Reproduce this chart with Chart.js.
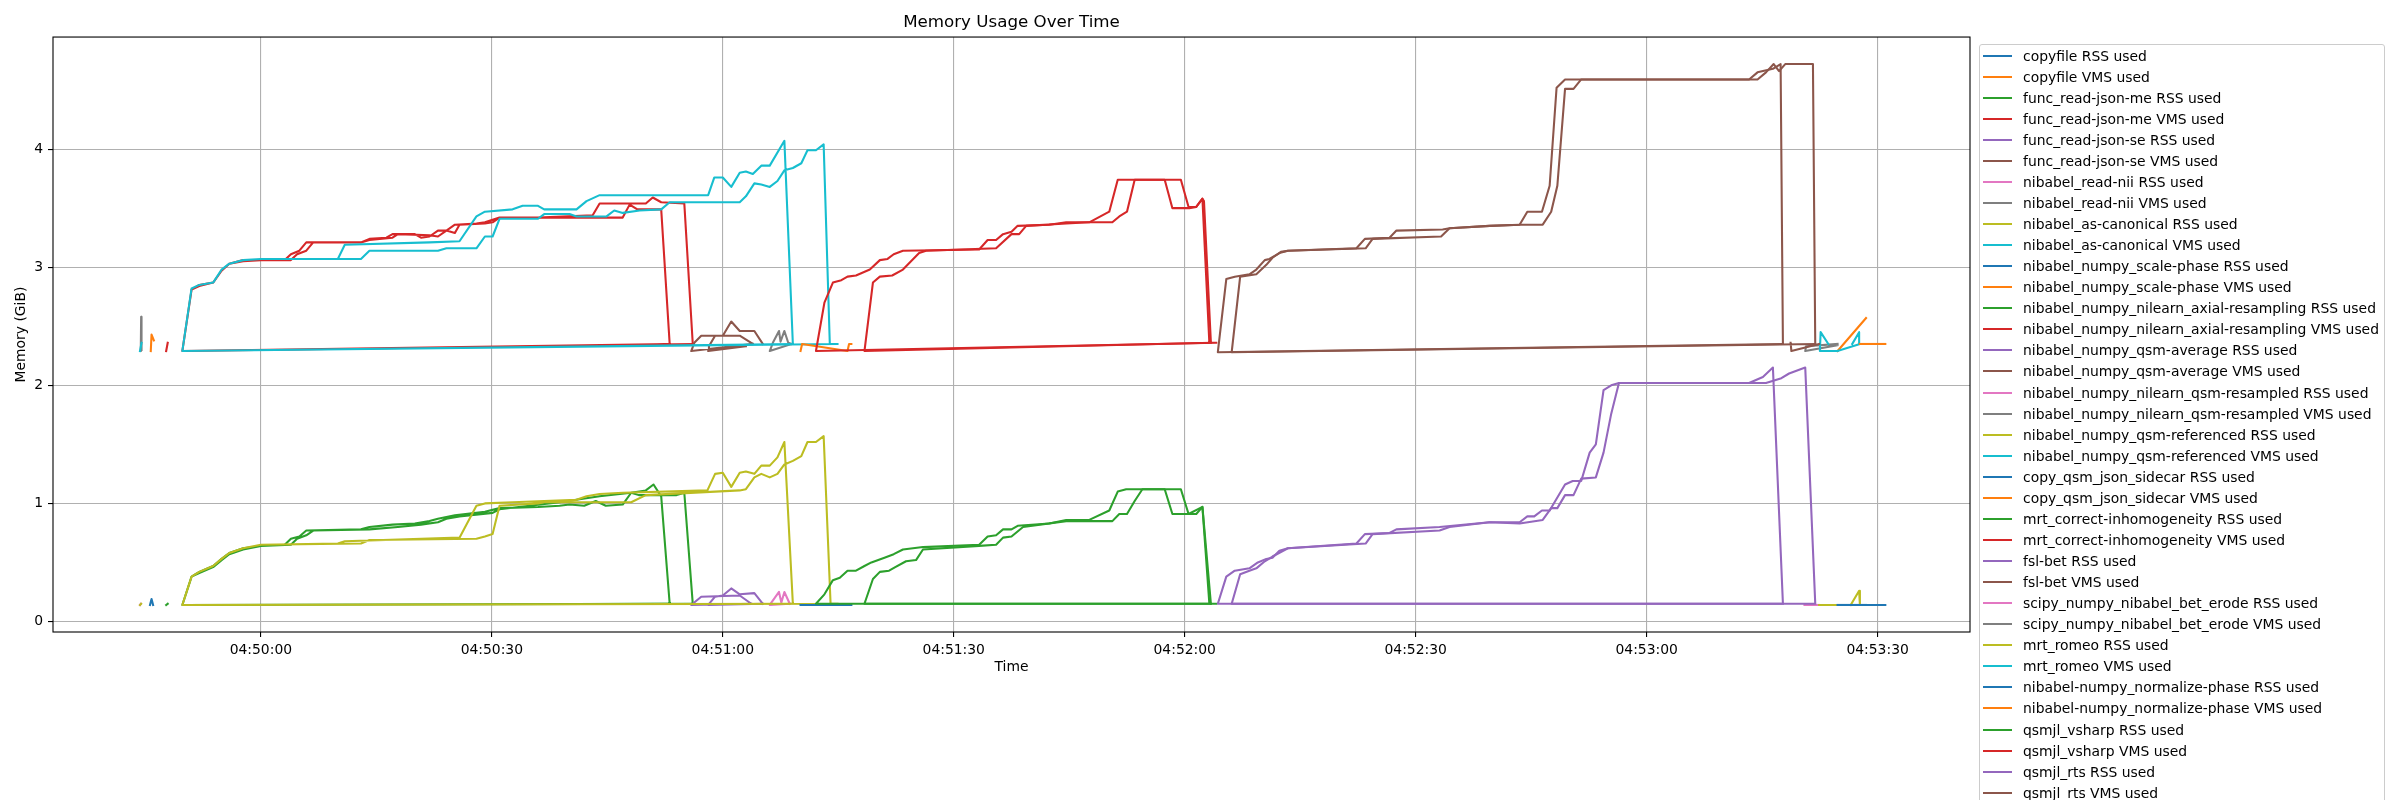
<!DOCTYPE html>
<html>
<head>
<meta charset="utf-8">
<title>Memory Usage Over Time</title>
<script src="https://cdn.jsdelivr.net/npm/chart.js@4.4.1/dist/chart.umd.min.js"></script>
<style>
  body { margin: 0; background: #fff; }
  #wrap { position: relative; width: 2400px; height: 800px; overflow: hidden; background: #fff; }
  #plot { position: absolute; left: 0; top: 0; width: 2400px; height: 800px; }
  #legend {
    position: absolute; left: 1979px; top: 44px; width: 406px;
    box-sizing: border-box; border: 1px solid #cccccc; border-radius: 3px;
    background: rgba(255, 255, 255, 0.8);
    font: 13.9px "DejaVu Sans", sans-serif; color: #000;
  }
  .row { height: 21.07px; display: flex; align-items: center; white-space: nowrap; }
  .swatch { width: 29px; height: 2px; margin-left: 3px; margin-right: 11px; flex: none; }
</style>
</head>
<body>
<div id="wrap">
  <div id="plot"><canvas id="memChart"></canvas></div>
  <div id="legend"></div>
</div>
<script>
// x = seconds after 04:49:00, y = GiB. [x, null] breaks a line.
const copyfileRss = [[45.6,0.14],[45.8,0.19],[46.0,0.14]];
const copyfileVms = [[45.7,2.29],[45.8,2.43],[46.1,2.38]];
const readJsonMeRss = [[47.7,0.14],[47.9,0.15]];
const readJsonMeVms = [[47.7,2.29],[47.9,2.36]];
const readJsonSeRss = [];
const readJsonSeVms = [];
const readNiiRss = [[44.3,0.14],[44.4,0.15]];
const readNiiVms = [[44.4,2.29],[44.45,2.58],[44.5,2.30]];
const asCanonicalRss = [[44.3,0.14],[44.45,0.15]];
const asCanonicalVms = [[44.3,2.29],[44.5,2.36]];
const scalePhaseRss = [[264.8,0.14],[268.5,0.14]];
const scalePhaseVms = [[264.8,2.29],[268.5,2.57]];

const axialRss = [
  [113.1,0.15],[49.8,0.14],[51.0,0.38],[52.0,0.42],[53.8,0.47],[54.9,0.53],[55.9,0.58],[57.7,0.62],
  [60.0,0.64],[63.1,0.65],[63.9,0.70],[65.0,0.72],[65.9,0.77],[73.0,0.78],[74.1,0.80],[77.1,0.82],
  [80.0,0.83],[81.9,0.85],[83.0,0.87],[85.2,0.90],[89.1,0.93],[91.0,0.96],[96.0,0.97],[98.8,0.98],
  [100.1,0.99],[102.0,0.98],[103.5,1.02],[104.8,0.98],[107.0,0.99],[108.1,1.09],[110.0,1.11],
  [111.0,1.16],[112.0,1.06],[113.1,0.15],[113.1,null],
  [116.1,0.15],[49.8,0.14],[51.0,0.38],[52.0,0.41],[53.8,0.46],[54.9,0.52],[55.9,0.57],[57.7,0.61],
  [60.0,0.64],[63.9,0.65],[64.7,0.70],[65.9,0.73],[66.8,0.77],[74.1,0.78],[77.8,0.80],[80.8,0.82],
  [83.0,0.84],[84.1,0.87],[85.8,0.89],[90.1,0.92],[91.0,0.95],[98.8,1.01],[104.0,1.06],[108.1,1.09],
  [109.1,1.07],[114.0,1.07],[115.0,1.09],[116.1,0.15]
];
const axialVms = [
  [116.1,2.35],[49.8,2.29],[51.0,2.81],[52.0,2.85],[53.8,2.87],[54.9,2.97],[55.9,3.03],[57.7,3.06],
  [60.0,3.06],[63.1,3.06],[63.9,3.11],[65.0,3.14],[65.9,3.21],[73.0,3.21],[74.1,3.24],[76.3,3.25],
  [77.1,3.28],[80.0,3.28],[80.8,3.25],[81.9,3.26],[83.0,3.31],[84.1,3.31],[85.2,3.36],[88.0,3.37],
  [89.1,3.38],[91.0,3.42],[96.0,3.42],[103.1,3.44],[104.0,3.54],[110.0,3.54],[110.9,3.59],
  [112.0,3.55],[115.0,3.54],[116.1,2.35],[116.1,null],
  [113.1,2.35],[49.8,2.29],[51.0,2.81],[52.0,2.84],[53.8,2.87],[54.9,2.97],[55.9,3.03],[57.7,3.05],
  [60.0,3.06],[63.9,3.06],[64.7,3.11],[65.9,3.14],[66.8,3.21],[73.0,3.21],[74.1,3.23],[77.1,3.25],
  [77.8,3.28],[81.9,3.27],[83.0,3.26],[84.1,3.31],[85.2,3.29],[85.8,3.36],[89.1,3.37],[90.1,3.38],
  [91.0,3.42],[107.0,3.42],[107.9,3.53],[108.9,3.49],[112.0,3.49],[113.1,2.35]
];
const qsmAverageRss = [
  [123.7,0.15],[115.9,0.14],[117.2,0.21],[122.2,0.22],[123.7,0.15],[123.7,null],
  [125.2,0.15],[118.1,0.14],[119.0,0.21],[120.0,0.22],[121.1,0.28],[122.2,0.23],[124.1,0.24],[125.2,0.15]
];
const qsmAverageVms = [
  [123.9,2.35],[115.9,2.29],[116.3,2.36],[117.2,2.42],[122.2,2.42],[123.9,2.35],[123.9,null],
  [123.0,2.33],[118.1,2.29],[118.2,2.33],[119.0,2.42],[120.0,2.42],[121.1,2.54],[122.2,2.46],
  [124.1,2.46],[125.2,2.35]
];
const qsmResampledRss = [[128.7,0.15],[126.1,0.14],[127.3,0.25],[127.6,0.16],[128.0,0.25],[128.7,0.15]];
const qsmResampledVms = [[128.9,2.35],[126.1,2.29],[126.5,2.36],[127.3,2.46],[127.5,2.37],[128.0,2.46],[128.5,2.36],[128.9,2.35]];
const qsmReferencedRss = [
  [129.1,0.15],[49.8,0.14],[51.0,0.38],[52.0,0.42],[53.8,0.47],[54.9,0.53],[55.9,0.58],[57.7,0.62],
  [60.0,0.65],[70.0,0.66],[70.9,0.68],[85.8,0.71],[88.0,0.98],[89.1,1.00],[92.7,1.01],[96.8,1.02],
  [101.0,1.03],[102.3,1.06],[104.0,1.08],[107.0,1.09],[118.0,1.11],[119.0,1.25],[120.0,1.26],
  [121.1,1.14],[122.2,1.26],[123.0,1.27],[124.1,1.25],[125.0,1.32],[126.1,1.32],[127.1,1.39],
  [128.0,1.52],[129.1,0.15],[129.1,null],
  [134.9,0.15],[49.8,0.14],[51.0,0.38],[52.0,0.42],[53.8,0.47],[54.9,0.53],[55.9,0.58],[57.7,0.62],
  [60.0,0.65],[73.0,0.66],[74.1,0.69],[88.0,0.70],[89.1,0.72],[90.1,0.74],[91.0,0.98],[96.0,1.00],
  [96.8,1.01],[108.1,1.01],[110.0,1.07],[122.2,1.11],[123.0,1.12],[124.1,1.22],[125.0,1.25],
  [126.1,1.22],[127.1,1.25],[128.0,1.33],[129.1,1.36],[130.2,1.40],[131.0,1.52],[132.1,1.52],
  [133.1,1.57],[134.0,0.15],[134.9,0.15]
];
const qsmReferencedVms = [
  [129.1,2.35],[49.8,2.29],[51.0,2.82],[52.0,2.85],[53.8,2.87],[54.9,2.98],[55.9,3.03],[57.7,3.06],
  [60.0,3.07],[70.0,3.07],[70.9,3.19],[81.9,3.21],[85.8,3.22],[88.0,3.43],[89.1,3.47],[92.7,3.49],
  [94.0,3.52],[96.0,3.52],[96.8,3.49],[101.0,3.49],[102.3,3.56],[104.0,3.61],[118.1,3.61],
  [118.9,3.76],[120.0,3.76],[121.1,3.68],[122.2,3.80],[123.0,3.81],[123.9,3.79],[125.0,3.86],
  [126.1,3.86],[128.0,4.07],[129.1,2.35],[129.1,null],
  [134.9,2.35],[49.8,2.29],[51.0,2.82],[52.0,2.85],[53.8,2.87],[54.9,2.98],[55.9,3.03],[57.7,3.06],
  [60.0,3.07],[73.0,3.07],[74.1,3.14],[83.0,3.14],[84.1,3.16],[88.0,3.16],[89.1,3.26],[90.1,3.26],
  [91.0,3.41],[96.0,3.41],[96.8,3.45],[100.1,3.45],[101.0,3.43],[104.9,3.43],[105.9,3.48],
  [107.0,3.46],[109.2,3.48],[112.0,3.49],[113.1,3.55],[122.2,3.55],[123.0,3.60],[124.1,3.71],
  [125.0,3.70],[126.1,3.68],[127.1,3.73],[128.0,3.82],[129.1,3.84],[130.2,3.88],[131.0,3.99],
  [132.1,3.99],[133.1,4.04],[133.9,2.35],[134.9,2.35]
];
const copySidecarRss = [[130.1,0.14],[136.7,0.14]];
const copySidecarVms = [[130.1,2.29],[130.3,2.35],[136.2,2.29],[136.4,2.35],[136.7,2.35]];
const inhomogeneityRss = [
  [184.1,0.15],[132.1,0.15],[133.2,0.23],[134.3,0.35],[135.2,0.37],[136.2,0.43],[137.3,0.43],
  [138.4,0.47],[139.3,0.50],[141.0,0.54],[142.2,0.57],[143.4,0.61],[146.0,0.63],[153.3,0.65],
  [154.4,0.72],[155.5,0.73],[156.4,0.78],[157.5,0.78],[158.3,0.81],[162.4,0.83],[164.6,0.86],
  [167.6,0.86],[170.2,0.94],[171.3,1.10],[172.4,1.12],[177.4,1.12],[178.4,0.91],[180.5,0.91],
  [182.3,0.97],[183.2,0.15],[184.1,0.15]
];
const inhomogeneityVms = [
  [184.1,2.36],[132.1,2.29],[133.2,2.70],[134.3,2.87],[135.4,2.89],[136.2,2.92],[137.3,2.93],
  [139.1,2.98],[140.4,3.06],[141.4,3.07],[142.2,3.11],[143.4,3.14],[153.3,3.15],[154.4,3.23],
  [155.5,3.23],[156.4,3.28],[157.5,3.30],[158.3,3.35],[162.4,3.36],[164.6,3.38],[167.6,3.38],
  [170.2,3.47],[171.3,3.74],[177.4,3.74],[178.4,3.50],[180.6,3.50],[181.5,3.51],[182.3,3.58],
  [182.5,3.56],[183.4,2.36],[184.1,2.36]
];
const fslBetRss = [
  [257.7,0.15],[184.3,0.15],[185.4,0.38],[186.5,0.43],[188.4,0.45],[189.5,0.50],[190.6,0.53],
  [191.4,0.54],[192.3,0.60],[193.4,0.62],[202.3,0.66],[203.4,0.74],[206.6,0.75],[207.5,0.78],
  [213.1,0.80],[219.6,0.84],[223.5,0.84],[224.5,0.89],[225.4,0.89],[226.4,0.94],[227.4,0.94],
  [229.4,1.16],[230.4,1.19],[231.5,1.19],[232.6,1.43],[233.4,1.50],[234.4,1.96],[235.4,2.00],
  [236.4,2.02],[253.3,2.02],[255.1,2.07],[256.4,2.15],[257.7,0.15]
];
const fslBetVms = [
  [257.7,2.35],[184.3,2.28],[185.4,2.90],[186.5,2.92],[188.4,2.94],[189.3,2.98],[190.4,3.06],
  [191.0,3.07],[192.3,3.12],[193.4,3.14],[202.3,3.16],[203.4,3.24],[206.6,3.25],[207.5,3.31],
  [213.5,3.32],[214.4,3.33],[219.6,3.35],[223.5,3.36],[224.5,3.47],[226.4,3.47],[227.4,3.69],
  [228.3,4.52],[229.4,4.59],[253.3,4.59],[254.4,4.65],[256.4,4.68],[257.4,4.72],[257.7,2.35]
];
const betErodeRss = [[260.5,0.14],[262.4,0.14]];
const betErodeVms = [[264.8,2.34],[260.6,2.29],[260.7,2.33],[264.8,2.35]];
const romeoRss = [[262.4,0.14],[264.8,0.14],[264.8,null],[266.5,0.14],[267.6,0.26],[267.7,0.14]];
const romeoVms = [
  [264.8,2.29],[262.5,2.29],[262.6,2.45],[263.6,2.35],[263.6,null],
  [264.8,2.29],[267.7,2.35],[267.6,2.45],[266.7,2.35]
];
const normalizePhaseRss = [[264.8,0.14],[271.0,0.14]];
const normalizePhaseVms = [[267.7,2.35],[271.0,2.35]];
const vsharpRss = [
  [183.4,0.15],[138.4,0.15],[139.5,0.36],[140.4,0.42],[141.6,0.43],[142.4,0.46],[143.8,0.51],
  [145.1,0.52],[146.0,0.61],[153.3,0.64],[155.5,0.65],[156.4,0.71],[157.5,0.72],[159.0,0.80],
  [164.6,0.85],[170.6,0.85],[171.5,0.91],[172.5,0.91],[173.5,1.02],[174.5,1.12],[179.5,1.12],
  [180.5,0.91],[181.5,0.91],[182.3,0.97],[183.4,0.15]
];
const vsharpVms = [
  [183.4,2.36],[138.4,2.29],[139.5,2.87],[140.4,2.92],[142.0,2.93],[143.4,2.98],[145.5,3.12],
  [146.4,3.14],[155.5,3.16],[157.5,3.28],[158.5,3.28],[159.4,3.35],[164.6,3.37],[167.6,3.38],
  [170.6,3.38],[171.5,3.43],[172.5,3.47],[173.5,3.74],[179.5,3.74],[180.5,3.51],[181.5,3.51],
  [182.3,3.58],[183.2,2.36]
];
const rtsRss = [
  [261.9,0.15],[186.1,0.15],[187.2,0.40],[188.4,0.43],[189.3,0.45],[190.4,0.51],[191.4,0.55],
  [193.4,0.62],[203.5,0.66],[204.4,0.74],[213.1,0.77],[214.4,0.80],[219.6,0.84],[223.5,0.83],
  [226.5,0.86],[227.6,0.96],[228.4,0.96],[229.4,1.07],[230.5,1.07],[231.5,1.21],[233.4,1.22],
  [234.4,1.43],[235.4,1.76],[236.4,2.02],[255.5,2.02],[257.5,2.06],[258.5,2.10],[260.6,2.15],
  [261.9,0.15]
];
const rtsVms = [
  [261.9,2.35],[186.1,2.28],[187.2,2.92],[189.3,2.94],[190.6,3.02],[191.4,3.08],[192.5,3.13],
  [193.4,3.14],[203.5,3.16],[204.4,3.24],[213.3,3.26],[214.4,3.33],[219.6,3.35],[223.5,3.36],
  [226.5,3.36],[227.6,3.47],[228.4,3.69],[229.4,4.51],[230.5,4.51],[231.5,4.59],[254.4,4.59],
  [255.5,4.65],[256.5,4.72],[257.2,4.66],[258.0,4.72],[261.6,4.72],[261.9,2.35],[261.9,null],
  [258.7,2.36],[258.8,2.29],[262.4,2.35]
];

const seriesLabels = [
  'copyfile RSS used', 'copyfile VMS used',
  'func_read-json-me RSS used', 'func_read-json-me VMS used',
  'func_read-json-se RSS used', 'func_read-json-se VMS used',
  'nibabel_read-nii RSS used', 'nibabel_read-nii VMS used',
  'nibabel_as-canonical RSS used', 'nibabel_as-canonical VMS used',
  'nibabel_numpy_scale-phase RSS used', 'nibabel_numpy_scale-phase VMS used',
  'nibabel_numpy_nilearn_axial-resampling RSS used', 'nibabel_numpy_nilearn_axial-resampling VMS used',
  'nibabel_numpy_qsm-average RSS used', 'nibabel_numpy_qsm-average VMS used',
  'nibabel_numpy_nilearn_qsm-resampled RSS used', 'nibabel_numpy_nilearn_qsm-resampled VMS used',
  'nibabel_numpy_qsm-referenced RSS used', 'nibabel_numpy_qsm-referenced VMS used',
  'copy_qsm_json_sidecar RSS used', 'copy_qsm_json_sidecar VMS used',
  'mrt_correct-inhomogeneity RSS used', 'mrt_correct-inhomogeneity VMS used',
  'fsl-bet RSS used', 'fsl-bet VMS used',
  'scipy_numpy_nibabel_bet_erode RSS used', 'scipy_numpy_nibabel_bet_erode VMS used',
  'mrt_romeo RSS used', 'mrt_romeo VMS used',
  'nibabel-numpy_normalize-phase RSS used', 'nibabel-numpy_normalize-phase VMS used',
  'qsmjl_vsharp RSS used', 'qsmjl_vsharp VMS used',
  'qsmjl_rts RSS used', 'qsmjl_rts VMS used'
];
const seriesData = [
  copyfileRss, copyfileVms, readJsonMeRss, readJsonMeVms, readJsonSeRss, readJsonSeVms,
  readNiiRss, readNiiVms, asCanonicalRss, asCanonicalVms, scalePhaseRss, scalePhaseVms,
  axialRss, axialVms, qsmAverageRss, qsmAverageVms, qsmResampledRss, qsmResampledVms,
  qsmReferencedRss, qsmReferencedVms, copySidecarRss, copySidecarVms,
  inhomogeneityRss, inhomogeneityVms, fslBetRss, fslBetVms, betErodeRss, betErodeVms,
  romeoRss, romeoVms, normalizePhaseRss, normalizePhaseVms, vsharpRss, vsharpVms, rtsRss, rtsVms
];
const xTickStep = 30;
const yTickStep = 1;

// matplotlib tab10 cycle
const palette = ['#1f77b4', '#ff7f0e', '#2ca02c', '#d62728', '#9467bd',
                 '#8c564b', '#e377c2', '#7f7f7f', '#bcbd22', '#17becf'];

function pad2(n) {
  return String(n).padStart(2, '0');
}

// seconds after 04:49:00 -> "HH:MM:SS"
function fmtTime(value) {
  const total = Math.round(4 * 3600 + 49 * 60 + value);
  const h = Math.floor(total / 3600);
  const m = Math.floor((total % 3600) / 60);
  const s = total % 60;
  return `${pad2(h)}:${pad2(m)}:${pad2(s)}`;
}

// box round the plot area, like the matplotlib spines
const frame = {
  id: 'frame',
  afterDatasetsDraw(chart) {
    const { ctx, chartArea: a } = chart;
    ctx.save();
    ctx.strokeStyle = '#000';
    ctx.lineWidth = 1.1;
    ctx.strokeRect(a.left, a.top, a.right - a.left, a.bottom - a.top);
    ctx.restore();
  }
};

Chart.defaults.font.family = "'DejaVu Sans', sans-serif";
Chart.defaults.font.size = 13.9;
Chart.defaults.color = '#000';

const datasets = seriesData.map((points, i) => ({
  label: seriesLabels[i],
  data: points,
  borderColor: palette[i % palette.length],
  backgroundColor: palette[i % palette.length],
  borderWidth: 2.08,
  borderJoinStyle: 'round',
  borderCapStyle: 'square',
  pointRadius: 0,
  pointHitRadius: 0,
  tension: 0,
  fill: false,
  spanGaps: false,
  order: seriesData.length - i // later series on top, as in matplotlib
}));

const gridOpts = {
  color: '#b0b0b0',
  lineWidth: 1.1,
  tickLength: 5,
  tickColor: '#000',
  tickWidth: 1.1
};

const ctx = document.getElementById('memChart').getContext('2d');
new Chart(ctx, {
  type: 'line',
  data: { datasets },
  options: {
    responsive: true,
    maintainAspectRatio: false,
    animation: false,
    events: [],
    layout: { padding: { left: 0, top: 0, right: 430, bottom: 0 } },
    plugins: {
      legend: { display: false },
      tooltip: { enabled: false },
      title: {
        display: true,
        text: 'Memory Usage Over Time',
        fullSize: false,
        color: '#000',
        font: { size: 16.7, weight: 'normal' },
        padding: { top: 13, bottom: 4 }
      }
    },
    scales: {
      x: {
        type: 'linear',
        min: 33.0,
        max: 282.0,
        grid: gridOpts,
        border: { display: false },
        ticks: {
          stepSize: xTickStep,
          includeBounds: false,
          autoSkip: false,
          maxRotation: 0,
          padding: 5,
          color: '#000',
          callback: (v) => fmtTime(v)
        },
        title: { display: true, text: 'Time', color: '#000', padding: { top: 0, bottom: 124.6 } },
        afterFit: (scale) => { scale.height = 168; }
      },
      y: {
        type: 'linear',
        min: -0.089,
        max: 4.949,
        grid: gridOpts,
        border: { display: false },
        ticks: {
          stepSize: yTickStep,
          includeBounds: false,
          padding: 5,
          color: '#000'
        },
        title: { display: true, text: 'Memory (GiB)', color: '#000', padding: { top: 13, bottom: 0 } },
        afterFit: (scale) => { scale.width = 53; }
      }
    }
  },
  plugins: [frame]
});

// legend outside the axes on the right, one column, cut by the page edge
const legendBox = document.getElementById('legend');
seriesLabels.forEach((label, i) => {
  const row = document.createElement('div');
  row.className = 'row';
  const swatch = document.createElement('span');
  swatch.className = 'swatch';
  swatch.style.background = palette[i % palette.length];
  const text = document.createElement('span');
  text.textContent = label;
  row.appendChild(swatch);
  row.appendChild(text);
  legendBox.appendChild(row);
});
</script>
</body>
</html>
